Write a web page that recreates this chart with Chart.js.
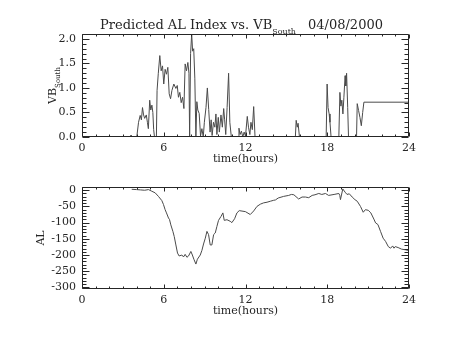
<!DOCTYPE html>
<html>
<head>
<meta charset="utf-8">
<script src="https://cdn.jsdelivr.net/npm/chart.js@4/dist/chart.umd.min.js"></script>
<style>
  html, body { margin: 0; padding: 0; background: #ffffff; }
  #wrap { position: relative; width: 454px; height: 341px; }
  canvas { position: absolute; left: 0; top: 0; }
</style>
</head>
<body>
<div id="wrap">
  <canvas id="c1" width="454" height="341"></canvas>
  <canvas id="c2" width="454" height="341"></canvas>
</div>
<script>
// ---------------- DATA ----------------
const titleMain = "Predicted AL Index vs. VB";
const titleSub = "South";
const titleDate = "04/08/2000";
const xTitle = "time(hours)";
const xTicks = [0, 6, 12, 18, 24];
const vbTicks = [0.0, 0.5, 1.0, 1.5, 2.0];
const alTicks = [0, -50, -100, -150, -200, -250, -300];

// VB South (hours, value)
const vbTime = [0, 3.5, 3.6, 3.7, 4.02, 4.15, 4.27, 4.36, 4.44, 4.52, 4.6, 4.72, 4.8, 4.87, 4.97, 5.05, 5.13, 5.2, 5.26, 5.32, 5.46,
  5.51, 5.6, 5.71, 5.81, 5.91, 6.0, 6.1, 6.2, 6.3, 6.4, 6.5, 6.6, 6.74, 6.89, 6.99, 7.08, 7.18, 7.28, 7.38, 7.48, 7.57, 7.67, 7.77, 7.85, 7.9,
  7.97, 8.05, 8.12, 8.2, 8.28, 8.36, 8.43, 8.5, 8.6, 8.7, 8.8, 8.9, 8.98, 9.1, 9.2, 9.3, 9.4, 9.48, 9.55, 9.65, 9.75, 9.83, 9.9, 10.0, 10.08,
  10.2, 10.3, 10.4, 10.47, 10.55, 10.65, 10.76, 10.85, 10.96, 11.45, 11.52, 11.6, 11.7, 11.8, 11.9, 12.0, 12.13, 12.22, 12.32, 12.4, 12.5,
  12.6, 12.7, 15.66, 15.72, 15.8, 15.86, 15.96, 17.92, 17.99, 18.06, 18.14, 18.2, 18.28, 18.85, 18.93, 19.0, 19.07, 19.15, 19.22, 19.31,
  19.36, 19.42, 19.5, 19.56, 20.15, 20.2, 20.3, 20.4, 20.5, 20.6, 20.69, 24];
const vbValue = [0, 0, 0.04, 0, 0, 0.3, 0.44, 0.35, 0.6, 0.45, 0.38, 0.45, 0.3, 0.17, 0.75, 0.55, 0.65, 0.5, 0.15, 0, 0,
  0.95, 1.3, 1.66, 1.35, 1.45, 1.08, 1.38, 1.28, 1.42, 0.88, 0.78, 0.95, 1.08, 0.99, 1.05, 0.81, 0.91, 0.7, 0.81, 0.58, 1.49, 1.35, 1.52, 1.3, 0,
  1.7, 2.1, 1.75, 1.8, 1.2, 0, 0.72, 0.55, 0.48, 0.02, 0.17, 0, 0.3, 0.6, 1.0, 0.56, 0.1, 0.35, 0.03, 0.3, 0.2, 0.47, 0.05, 0.4, 0.1,
  0.45, 0.2, 0.58, 0.35, 0.05, 0.6, 1.3, 0.3, 0, 0, 0.18, 0.05, 0.12, 0, 0.1, 0.02, 0.42, 0.2, 0.05, 0.3, 0.15,
  0.62, 0, 0, 0.34, 0.2, 0.28, 0, 0, 1.08, 0.6, 0.47, 0.3, 0, 0, 0.91, 0.63, 0.75, 0.47, 0.8, 1.25,
  1.04, 1.3, 0.6, 0, 0, 0.68, 0.54, 0.4, 0.23, 0.5, 0.71, 0.71];

// AL index (hours, nT)
const alTime = [3.65, 4.0, 4.3, 4.6, 4.88, 5.12, 5.37, 5.61, 5.86, 5.98, 6.1, 6.2, 6.35, 6.42, 6.52, 6.67, 6.77, 6.89, 7.01, 7.13, 7.33,
  7.45, 7.57, 7.7, 7.82, 7.99, 8.1, 8.21, 8.36, 8.47, 8.68, 8.8, 8.92, 9.05, 9.17, 9.29, 9.41, 9.53, 9.66, 9.78, 9.9, 10.02, 10.2, 10.34,
  10.44, 10.64, 10.88, 11.0, 11.2, 11.37, 11.54, 11.99, 12.35, 12.6, 12.84, 13.09, 13.33, 13.58, 13.82, 14.07, 14.2, 14.4, 14.8, 15.17,
  15.37, 15.55, 15.9, 16.15, 16.4, 16.64, 16.89, 17.1, 17.38, 17.6, 17.87, 18.1, 18.5, 18.85, 18.92, 18.97, 19.14, 19.31, 19.45, 19.62,
  19.83, 20.03, 20.2, 20.44, 20.64, 20.8, 21.01, 21.2, 21.42, 21.55, 21.72, 21.91, 22.1, 22.28, 22.48, 22.65, 22.8, 22.9, 22.99, 23.2,
  23.46, 23.75, 23.95];
const alValue = [3, 2, 1, 0, 2, -3, -8, -19, -32, -44, -60, -70, -86, -90, -107, -127, -143, -169, -194, -203, -200,
  -206, -198, -207, -203, -189, -200, -213, -228, -213, -200, -186, -166, -148, -127, -137, -169, -169, -137, -132, -112, -93, -81, -70,
  -93, -91, -96, -100, -88, -70, -63, -66, -75, -64, -50, -43, -39, -37, -34, -31, -30, -24, -19, -16,
  -13, -14, -27, -21, -21, -23, -16, -14, -10, -13, -10, -16, -13, -10, -16, -29, 4, -6, -13, -11,
  -21, -29, -34, -50, -68, -60, -62, -70, -89, -101, -106, -127, -148, -158, -174, -179, -172, -179, -174, -177,
  -182, -184, -186];

// ---------------- STYLE ----------------
const FONT = "'DejaVu Serif', serif";
const INK = '#262626';
const LINE = '#4a4a4a';
Chart.defaults.font.family = FONT;
Chart.defaults.font.size = 11;
Chart.defaults.color = INK;

const toXY = (ts, vs) => ts.map((t, i) => ({x: t, y: vs[i]}));

// Inward IDL-style ticks on all four sides + box, from the chart's own scales
const idlAxes = {
  id: 'idlAxes',
  afterDatasetsDraw(chart, args, o) {
    const {ctx, chartArea: a, scales: {x, y}} = chart;
    const L = Math.round(a.left) + 0.5, R = Math.round(a.right) - 0.5;
    const T = Math.round(a.top) + 0.5, B = Math.round(a.bottom) - 0.5;
    ctx.save();
    ctx.strokeStyle = INK;
    ctx.lineWidth = 1;
    ctx.beginPath();
    ctx.rect(L, T, R - L, B - T);
    const seg = (x1, y1, x2, y2) => { ctx.moveTo(x1, y1); ctx.lineTo(x2, y2); };
    const isMajor = (arr, v) => arr.some(m => Math.abs(m - v) < 1e-6);
    for (let k = Math.ceil(x.min / o.xMinor - 1e-9); k * o.xMinor <= x.max + 1e-9; k++) {
      const v = k * o.xMinor;
      const px = Math.round(x.getPixelForValue(v)) + 0.5;
      const len = isMajor(o.xMajors, v) ? o.xMajorLen : o.xMinorLen;
      seg(px, B, px, B - len); seg(px, T, px, T + len);
    }
    for (let k = Math.ceil(y.min / o.yMinor - 1e-9); k * o.yMinor <= y.max + 1e-9; k++) {
      const v = k * o.yMinor;
      const py = Math.round(y.getPixelForValue(v)) + 0.5;
      const len = isMajor(o.yMajors, v) ? o.yMajorLen : o.yMinorLen;
      seg(L, py, L + len, py); seg(R, py, R - len, py);
    }
    ctx.stroke();
    ctx.restore();
  }
};

// Text with subscripts (title and VB_South label)
const subText = {
  id: 'subText',
  afterDraw(chart, args, o) {
    if (!o.enabled) return;
    const {ctx, chartArea: a} = chart;
    ctx.save();
    ctx.fillStyle = INK;
    ctx.textBaseline = 'alphabetic';
    const big = '13px ' + FONT, small = '8px ' + FONT;
    ctx.font = big;
    const w1 = ctx.measureText(titleMain).width;
    const wd = ctx.measureText(titleDate).width;
    ctx.font = small;
    const ws = ctx.measureText(titleSub).width;
    const gap = 12;
    const total = w1 + ws + gap + wd;
    let x0 = o.titleCenter - total / 2;
    ctx.font = big;
    ctx.fillText(titleMain, x0, o.titleBase);
    ctx.font = small;
    ctx.fillText(titleSub, x0 + w1, o.titleBase + 5);
    ctx.font = big;
    ctx.fillText(titleDate, x0 + w1 + ws + gap, o.titleBase);
    const lb = '11px ' + FONT, ls = '7px ' + FONT;
    ctx.font = lb;
    const wv = ctx.measureText('VB').width;
    ctx.font = ls;
    const wsv = ctx.measureText(titleSub).width;
    const cy = (a.top + a.bottom) / 2;
    ctx.translate(o.yLabelBase, cy + (wv + wsv) / 2);
    ctx.rotate(-Math.PI / 2);
    ctx.font = lb;
    ctx.fillText('VB', 0, 0);
    ctx.font = ls;
    ctx.fillText(titleSub, wv, 4);
    ctx.restore();
  }
};

function makeChart(id, data, yMin, yMax, yTicks, yMinor, fmt, pad, opts) {
  return new Chart(document.getElementById(id), {
    type: 'line',
    data: { datasets: [{ data, borderColor: LINE, borderWidth: 1, pointRadius: 0, tension: 0, fill: false }] },
    plugins: [idlAxes, subText],
    options: {
      responsive: false,
      animation: false,
      layout: { padding: pad },
      plugins: {
        legend: { display: false },
        tooltip: { enabled: false },
        idlAxes: { xMajors: xTicks, xMinor: 1, xMajorLen: 4, xMinorLen: 2,
                   yMajors: yTicks, yMinor: yMinor, yMajorLen: 7, yMinorLen: 4 },
        subText: opts.sub
      },
      scales: {
        x: {
          type: 'linear', min: 0, max: 24,
          afterFit: s => { s.height = 40; },
          afterBuildTicks: s => { s.ticks = xTicks.map(v => ({value: v})); },
          grid: { display: false, drawTicks: false },
          border: { display: false },
          ticks: { padding: 5, maxRotation: 0, autoSkip: false, color: INK },
          title: { display: true, text: xTitle, color: INK, padding: { top: 0, bottom: 11 }, font: { size: 11 } }
        },
        y: {
          type: 'linear', min: yMin, max: yMax,
          afterFit: s => { s.width = 82; },
          afterBuildTicks: s => { s.ticks = yTicks.map(v => ({value: v})); },
          grid: { display: false, drawTicks: false },
          border: { display: false },
          ticks: { padding: 6, autoSkip: false, color: INK, callback: fmt },
          title: opts.yTitle
        }
      }
    }
  });
}

makeChart('c1', toXY(vbTime, vbValue), 0, 2.1, vbTicks, 0.1, v => Number(v).toFixed(1),
  { left: 0, right: 45, top: 34, bottom: 164 },
  { sub: { enabled: true, titleCenter: 241.5, titleBase: 29, yLabelBase: 56 }, yTitle: { display: false } });

makeChart('c2', toXY(alTime, alValue), -305, 10, alTicks, 10, v => String(v),
  { left: 0, right: 45, top: 187, bottom: 12 },
  { sub: { enabled: false }, yTitle: { display: true, text: 'AL', color: INK, padding: { top: 35, bottom: 0 }, font: { size: 11 } } });
</script>
</body>
</html>
